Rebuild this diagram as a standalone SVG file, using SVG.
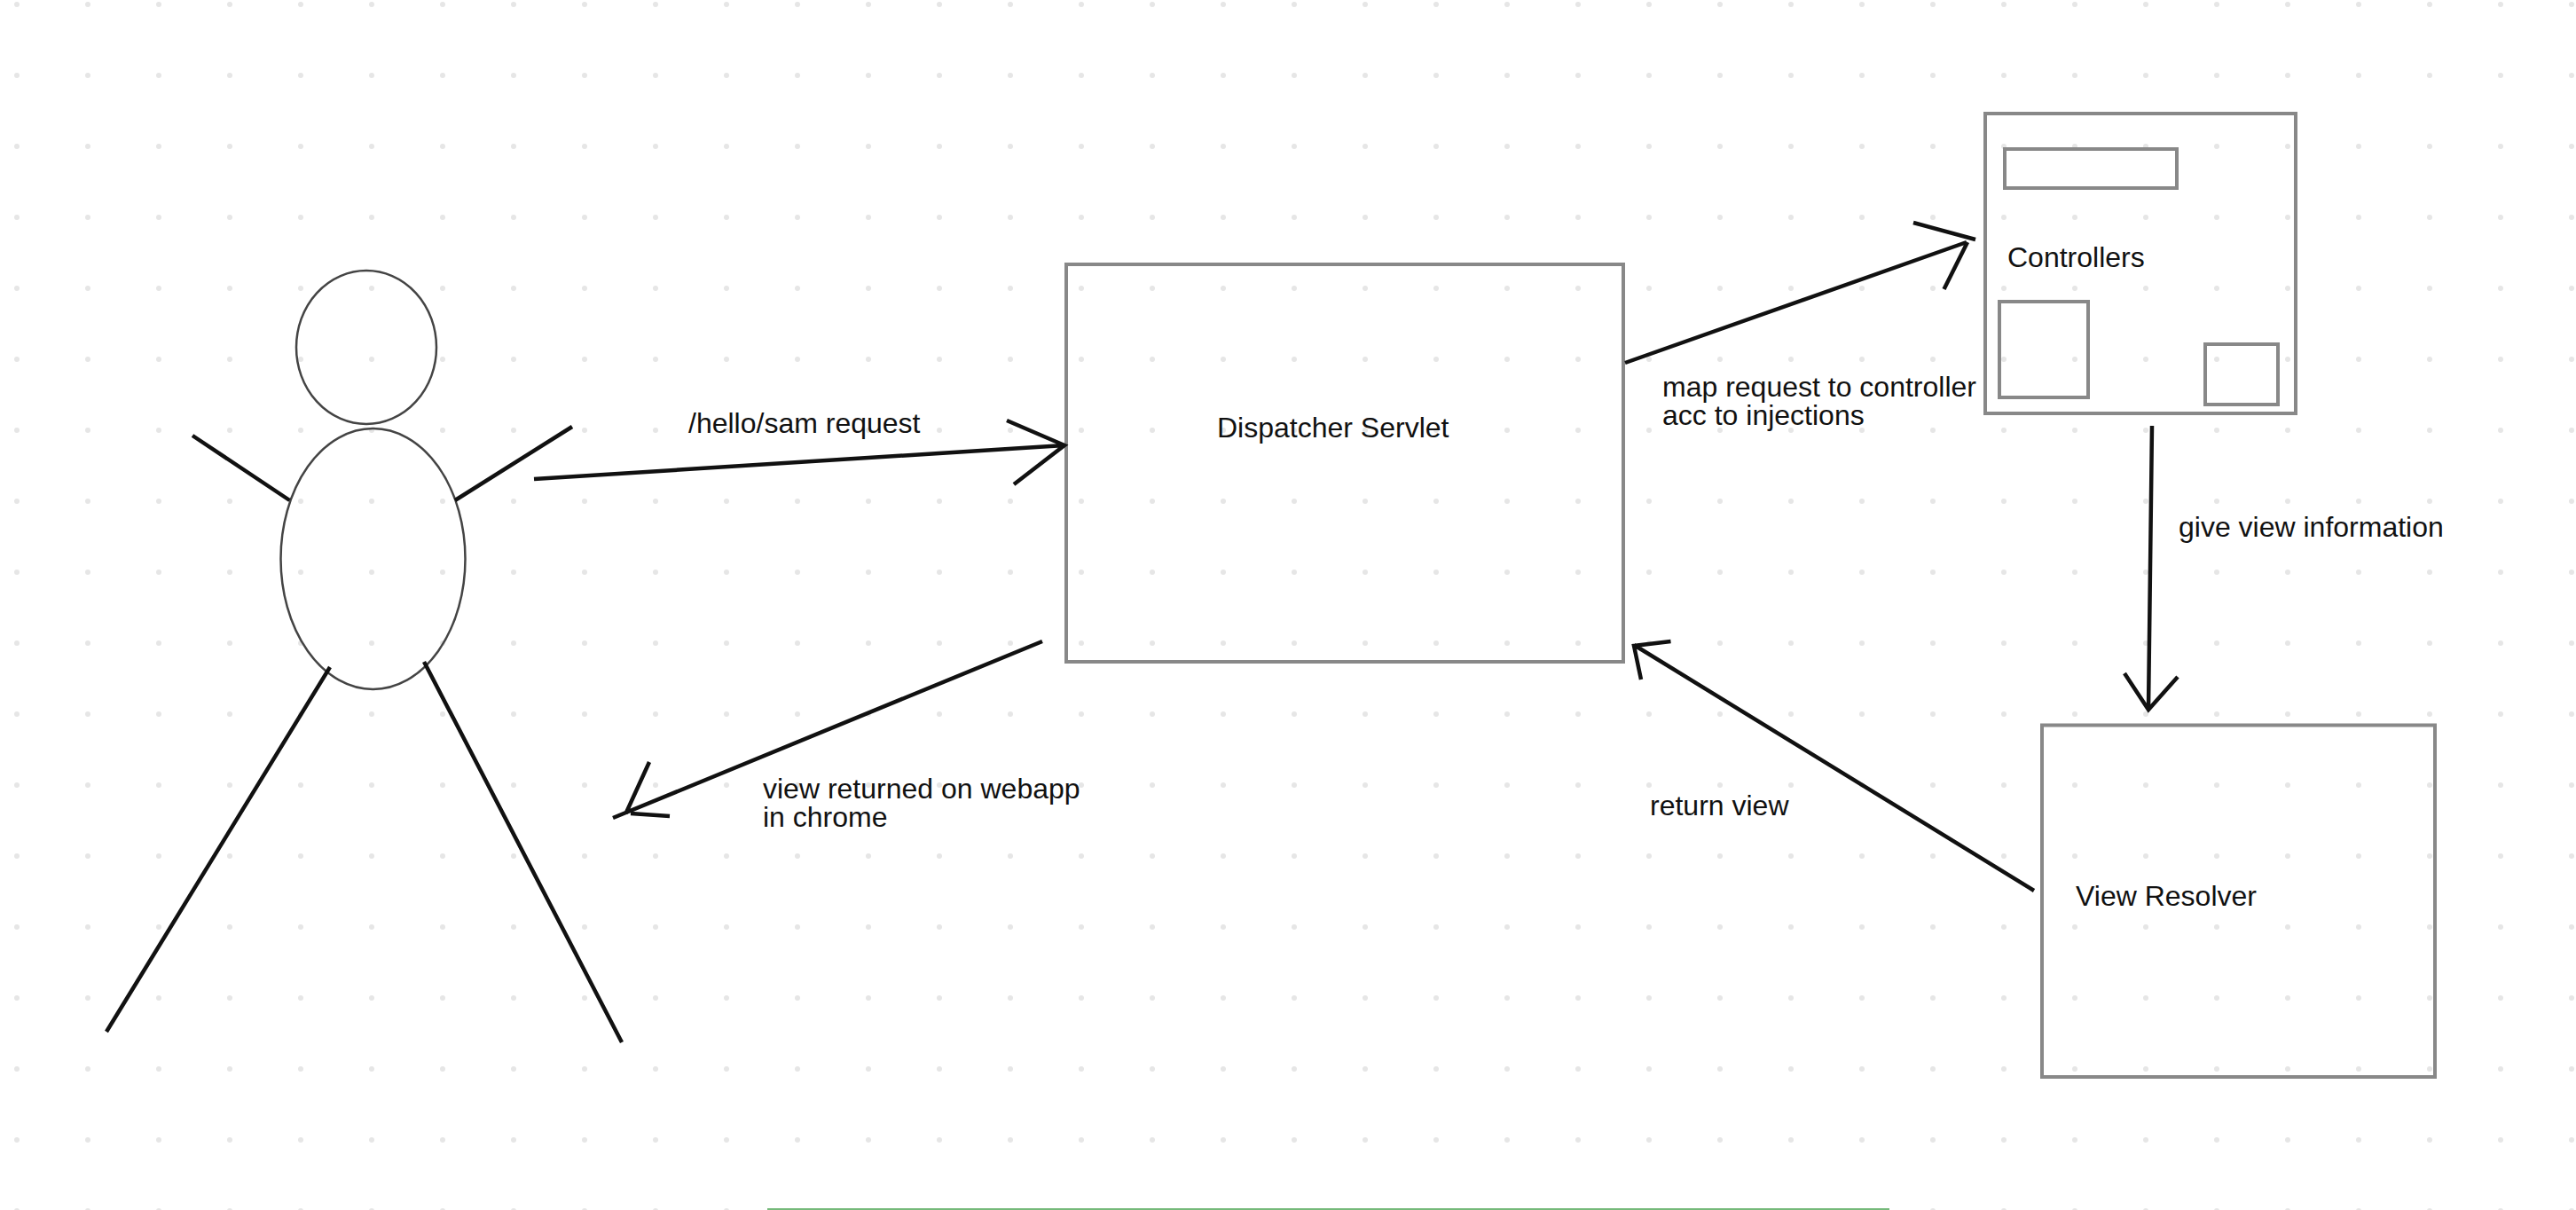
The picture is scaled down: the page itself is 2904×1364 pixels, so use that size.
<svg xmlns="http://www.w3.org/2000/svg" width="2904" height="1364" viewBox="0 0 2904 1364">
<defs>
<style>
.box{fill:none;stroke:#888;stroke-width:4}
.thin{fill:none;stroke:#444;stroke-width:2.5}
.ln{fill:none;stroke:#111;stroke-width:4.500;stroke-linecap:butt;stroke-linejoin:miter}
text{font-family:"Liberation Sans",Arial,sans-serif;font-size:32px;fill:#111}
</style>
<pattern id="dots" x="19" y="5" width="80" height="80" patternUnits="userSpaceOnUse">
<circle cx="0" cy="0" r="3" fill="#e6e6e6"/>
<circle cx="80" cy="0" r="3" fill="#e6e6e6"/>
<circle cx="0" cy="80" r="3" fill="#e6e6e6"/>
<circle cx="80" cy="80" r="3" fill="#e6e6e6"/>
</pattern>
</defs>
<rect width="2904" height="1364" fill="#fff"/>
<rect id="grid" width="2904" height="1364" fill="url(#dots)"/>
<g id="person">
<ellipse class="thin" cx="413" cy="391.5" rx="79" ry="86.5"/>
<ellipse class="thin" cx="420.500" cy="630" rx="104" ry="147"/>
<path class="ln" d="M217 491L326.500 564M645 481L513 564M372 752L120 1163M478 746L701 1175"/>
</g>
<g id="dispatcher"><rect class="box" x="1202" y="298" width="628" height="448"/><text x="1372" y="493">Dispatcher Servlet</text></g>
<g id="controllers">
<rect class="box" x="2238" y="128" width="350" height="338"/>
<rect class="box" x="2260" y="168" width="194" height="44"/>
<rect class="box" x="2254" y="340" width="100" height="108"/>
<rect class="box" x="2486" y="388" width="82" height="68"/>
<text x="2263" y="301">Controllers</text>
</g>
<g id="view-resolver"><rect class="box" x="2302" y="817.500" width="443" height="396.500"/><text x="2340" y="1021">View Resolver</text></g>
<g id="connectors">
<path class="ln" d="M602 540L1200 502M1135 474L1200 502L1143 546"/>
<path class="ln" d="M1832 409L2217 273M2157 251L2227 270M2218 273L2191.500 326"/>
<path class="ln" d="M2426 480L2422 800M2395 759L2422 800L2455 763"/>
<path class="ln" d="M2293 1004L1842 727M1883.500 723L1842 728L1850 766"/>
<path class="ln" d="M1175 723L691 922M732 859L705.500 917M711 917L755 920"/>
</g>
<g id="labels">
<text x="776" y="488">/hello/sam request</text>
<text x="1874" y="447">map request to controller</text>
<text x="1874" y="479">acc to injections</text>
<text x="2456" y="605">give view information</text>
<text x="1860" y="919">return view</text>
<text x="860" y="900">view returned on webapp</text>
<text x="860" y="932">in chrome</text>
</g>
<rect id="bar" x="865" y="1362" width="1265" height="2" fill="#75b97a"/>
</svg>
